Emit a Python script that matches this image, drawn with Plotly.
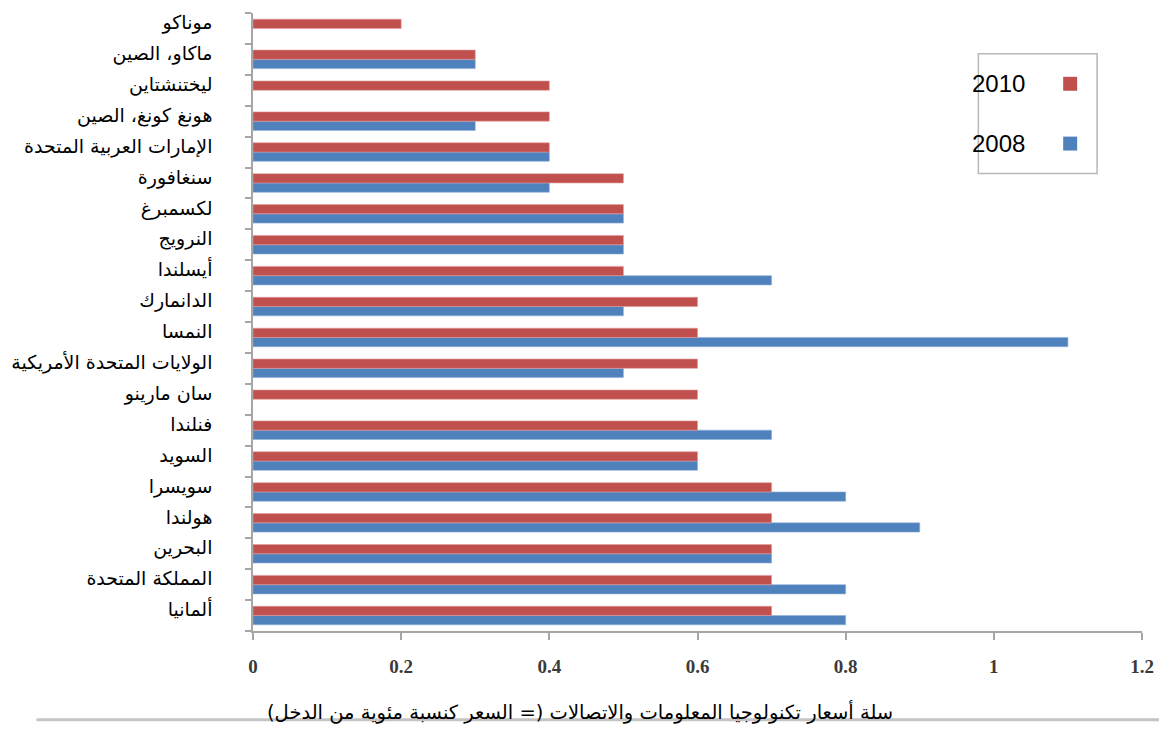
import plotly.graph_objects as go

# Countries listed from the bottom of the chart upward
countries = [
    "ألمانيا",
    "المملكة المتحدة",
    "البحرين",
    "هولندا",
    "سويسرا",
    "السويد",
    "فنلندا",
    "سان مارينو",
    "الولايات المتحدة الأمريكية",
    "النمسا",
    "الدانمارك",
    "أيسلندا",
    "النرويج",
    "لكسمبرغ",
    "سنغافورة",
    "الإمارات العربية المتحدة",
    "هونغ كونغ، الصين",
    "ليختنشتاين",
    "ماكاو، الصين",
    "موناكو",
]

values_2010 = [0.7, 0.7, 0.7, 0.7, 0.7, 0.6, 0.6, 0.6, 0.6, 0.6,
               0.6, 0.5, 0.5, 0.5, 0.5, 0.4, 0.4, 0.4, 0.3, 0.2]
values_2008 = [0.8, 0.8, 0.7, 0.9, 0.8, 0.6, 0.7, None, 0.5, 1.1,
               0.5, 0.7, 0.5, 0.5, 0.4, 0.4, 0.3, None, 0.3, None]

x_ticks = [0, 0.2, 0.4, 0.6, 0.8, 1, 1.2]
x_tick_text = ["0", "0.2", "0.4", "0.6", "0.8", "1", "1.2"]

axis_title = "سلة أسعار تكنولوجيا المعلومات والاتصالات (= السعر كنسبة مئوية من الدخل)"
series_names = ["2010", "2008"]
RED = "#C0504D"
BLUE = "#4F81BD"

W, H = 1165, 733
ML, MR, MT, MB = 252, 22, 11, 102
PW = W - ML - MR
PH = H - MT - MB


def px(x):
    return (x - ML) / PW


def py(y):
    return (H - MB - y) / PH


fig = go.Figure()
fig.add_trace(go.Bar(
    y=countries, x=values_2008, name=series_names[1], orientation="h",
    marker=dict(color=BLUE, line=dict(color="#8FB0DA", width=0.6)),
))
fig.add_trace(go.Bar(
    y=countries, x=values_2010, name=series_names[0], orientation="h",
    marker=dict(color=RED, line=dict(color="#E39A98", width=0.6)),
))

fig.update_layout(
    width=W, height=H,
    margin=dict(l=ML, r=MR, t=MT, b=MB, pad=0),
    paper_bgcolor="white", plot_bgcolor="white",
    barmode="group", bargap=0.4, bargroupgap=0,
    showlegend=False,
    font=dict(family="DejaVu Sans", color="black"),
)

fig.update_xaxes(
    range=[0, 1.2], tickvals=x_ticks, ticktext=x_tick_text,
    showgrid=False, zeroline=False,
    showline=True, linecolor="#A6A6A6", linewidth=1.5,
    ticks="outside", ticklen=7, tickcolor="#A6A6A6", tickwidth=1.5,
    ticklabelstandoff=10,
    tickfont=dict(family="Liberation Serif", size=19, color="#3A3A3A", weight="bold"),
)
fig.update_yaxes(
    type="category", categoryorder="array", categoryarray=countries,
    showgrid=False, zeroline=False,
    showline=True, linecolor="#A6A6A6", linewidth=1.5,
    ticks="outside", ticklen=6, tickcolor="#A6A6A6", tickwidth=1.5,
    tickson="boundaries", ticklabelstandoff=35, ticklabelshift=-6,
    tickfont=dict(family="DejaVu Sans", size=19, color="black"),
)

# Axis caption and the rule running underneath it
fig.add_shape(type="line", xref="paper", yref="paper",
              x0=px(35), x1=px(1160), y0=py(720), y1=py(720),
              line=dict(color="#C4C4C4", width=3), layer="below")
fig.add_annotation(text=axis_title, xref="paper", yref="paper",
                   x=px(580), y=py(712), showarrow=False,
                   xanchor="center", yanchor="middle",
                   font=dict(family="DejaVu Sans", size=19.5, color="black"),
                   bgcolor="rgba(0,0,0,0)")

# Legend: framed box with labels on the left and swatches on the right
fig.add_shape(type="rect", xref="paper", yref="paper",
              x0=px(979), x1=px(1098), y0=py(172), y1=py(52),
              line=dict(color="#B8B8B8", width=1.5), fillcolor="white")
legend_rows = [(series_names[0], RED, 82), (series_names[1], BLUE, 142)]
for label, color, yc in legend_rows:
    fig.add_shape(type="rect", xref="paper", yref="paper",
                  x0=px(1064), x1=px(1078), y0=py(yc + 7), y1=py(yc - 7),
                  line=dict(width=0), fillcolor=color)
    fig.add_annotation(text=label, xref="paper", yref="paper",
                       x=px(971), y=py(yc), showarrow=False,
                       xanchor="left", yanchor="middle",
                       font=dict(family="Liberation Sans", size=24, color="black"))

fig.write_html("out.html")
